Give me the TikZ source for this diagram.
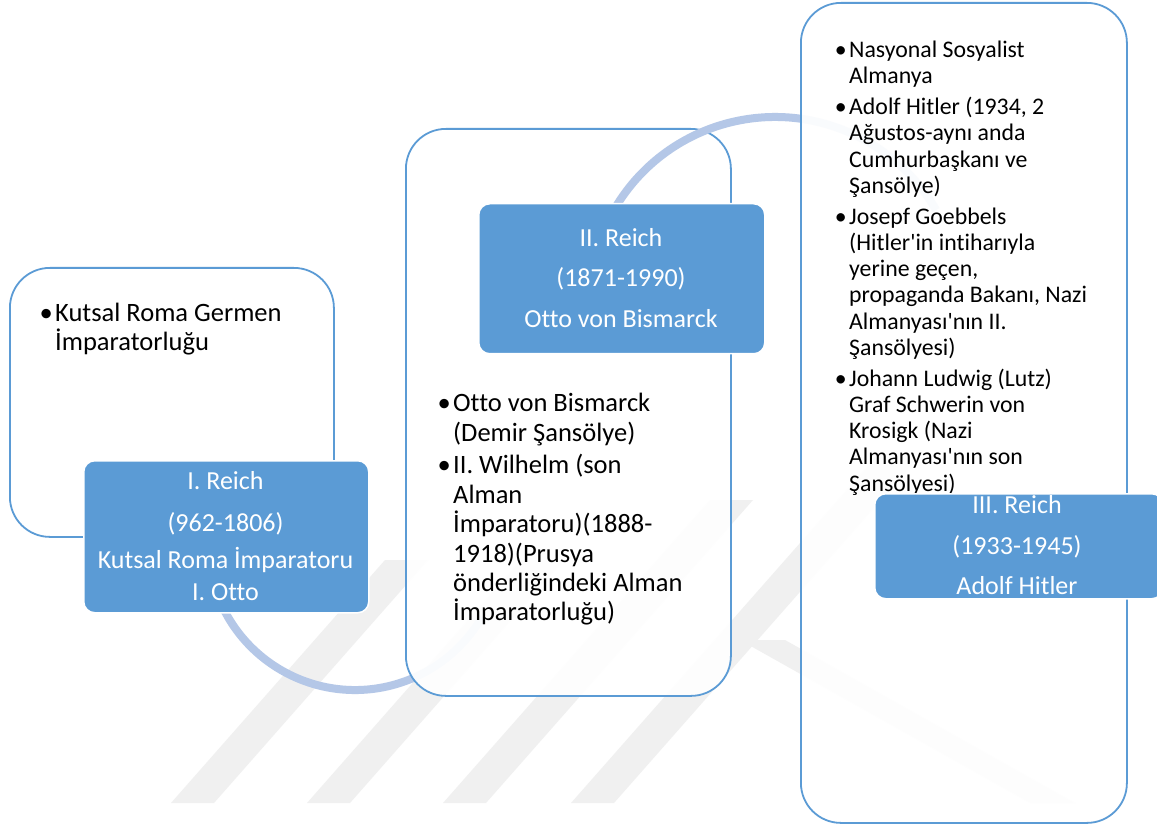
\documentclass[tikz,border=0pt]{standalone}
\usepackage{fontspec}
\defaultfontfeatures{}
\setmainfont{Carlito}[Ligatures={NoCommon,TeXOff}]
\usetikzlibrary{calc}
\definecolor{accent}{HTML}{5B9BD5}
\definecolor{arccol}{HTML}{B4C7E7}
\definecolor{wm}{HTML}{F0F0F0}
\newcommand{\bul}{\leavevmode\llap{•\hspace{2.5pt}}}
\begin{document}
\begin{tikzpicture}[x=1pt,y=-1pt,
  whitebox/.style={draw=accent, line width=1.8pt, fill=white, fill opacity=0.93,
    rounded corners=40pt, inner sep=0pt, anchor=north west},
  bluebox/.style={draw=white, line width=1.5pt, fill=accent, rounded corners=11pt,
    inner sep=0pt, anchor=north west},
  bluetext/.style={text=white, align=center, font=\fontsize{26}{31.7}\selectfont, inner sep=0pt},
  bullettext/.style={anchor=base west, inner sep=0pt, text=black},
  arcline/.style={draw=arccol, line width=8pt},
  wmband/.style={fill=wm}]
\useasboundingbox (0,0) rectangle (1157,826);
\fill[white] (0,0) rectangle (1157,826);
% faint watermark bands
\fill[wmband] (171,803) -- (214,803) -- (428,560) -- (385,560) -- cycle;
\fill[wmband] (307,803) -- (350,803) -- (564,560) -- (521,560) -- cycle;
\fill[wmband] (443,803) -- (486,803) -- (753,500) -- (710,500) -- cycle;
\fill[wmband] (571,803) -- (614,803) -- (925,450) -- (882,450) -- cycle;
\fill[wmband] (740,640) -- (785,640) -- (1075,803) -- (1030,803) -- cycle;
% centres of the arcs
\coordinate (c1) at (355,543);
\coordinate (c2) at (775,303);
% box 1
\node[whitebox, minimum width=324pt, minimum height=269pt] (b1) at (9,267) {};
\node[bullettext] (t1) at (55,322) {\parbox[t]{280pt}{\fontsize{26.5}{29}\selectfont\raggedright
  \bul Kutsal Roma Germen\\İmparatorluğu}};
% arc 1
\draw[arcline] ($(c1)+(200:147pt)$) arc[start angle=200, end angle=330, radius=147pt];
\node[bluebox, minimum width=285pt, minimum height=152pt] (r1) at (83,460) {};
\node[bluetext] (r1t) at (225.5,536) {I. Reich\\[10pt](962-1806)\\[6pt]Kutsal Roma İmparatoru\\I. Otto};
% box 2
\node[whitebox, minimum width=325pt, minimum height=567pt] (b2) at (405,128) {};
\node[bullettext] (t2) at (453,411.5) {\parbox[t]{280pt}{\fontsize{26.5}{29.5}\selectfont\raggedright
  \bul Otto von Bismarck\\(Demir Şansölye)\\[3pt]
  \bul II. Wilhelm (son\\Alman\\İmparatoru)(1888-\\1918)(Prusya\\önderliğindeki Alman\\İmparatorluğu)}};
% arc 2
\draw[arcline] ($(c2)+(150:186pt)$) arc[start angle=150, end angle=30, radius=186pt];
\node[bluebox, minimum width=286pt, minimum height=150pt] (r2) at (478,203) {};
\node[bluetext] (r2t) at (621,278) {II. Reich\\[8.5pt](1871-1990)\\[9pt]Otto von Bismarck};
% box 3
\node[whitebox, minimum width=326pt, minimum height=820pt] (b3) at (800,2) {};
\node[bullettext] (t3) at (849,57.5) {\parbox[t]{300pt}{\fontsize{23.8}{26.2}\selectfont\raggedright
  \bul Nasyonal Sosyalist\\Almanya\\[4.8pt]
  \bul Adolf Hitler (1934, 2\\Ağustos-aynı anda\\Cumhurbaşkanı ve\\Şansölye)\\[4.8pt]
  \bul Josepf Goebbels\\(Hitler'in intiharıyla\\yerine geçen,\\propaganda Bakanı, Nazi\\Almanyası'nın II.\\Şansölyesi)\\[4.8pt]
  \bul Johann Ludwig (Lutz)\\Graf Schwerin von\\Krosigk (Nazi\\Almanyası'nın son\\Şansölyesi)}};
\node[bluebox, minimum width=288pt, minimum height=105pt] (r3) at (874,493) {};
\node[bluetext] (r3t) at (1017,545.5) {III. Reich\\[8.5pt](1933-1945)\\[9pt]Adolf Hitler};
\end{tikzpicture}
\end{document}
